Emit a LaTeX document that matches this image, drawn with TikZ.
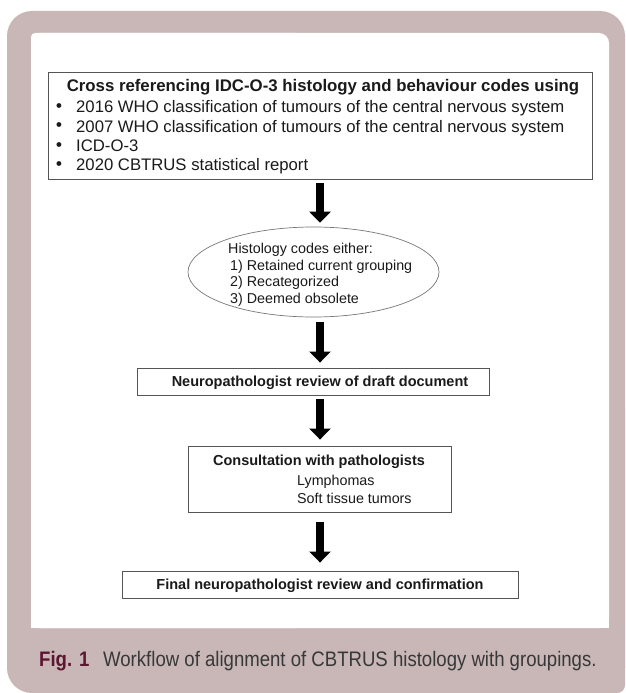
\documentclass[tikz,border=0pt]{standalone}
\usepackage{fontspec}
\setmainfont{Liberation Sans}
\newfontfamily\capfont[FakeStretch=0.885]{Liberation Sans}
\usetikzlibrary{arrows.meta,shapes.geometric}
\definecolor{frame}{HTML}{C9B7B7}
\definecolor{figred}{HTML}{5B1631}
\definecolor{captext}{HTML}{383838}
\definecolor{boxgray}{HTML}{555555}
\definecolor{txt}{HTML}{1A1A1A}
\begin{document}
\begin{tikzpicture}[x=1pt,y=-1pt,
  boxstyle/.style={draw=boxgray, line width=0.9pt, rectangle, inner sep=0pt, text=txt},
  ellstyle/.style={draw=boxgray!80, line width=0.7pt, ellipse, inner sep=0pt},
  bigarrow/.style={line width=8pt, draw=black, -{Triangle[width=21pt,length=11pt]}},
  lbl/.style={inner sep=0pt, anchor=base, text=txt},
  lblw/.style={inner sep=0pt, anchor=base west, text=txt},
  titlefont/.style={font=\fontsize{16.8}{19}\selectfont\bfseries},
  itemfont/.style={font=\fontsize{16.7}{19}\selectfont},
  bulfont/.style={font=\fontsize{16.7}{19}\selectfont\bfseries},
  smallbold/.style={font=\fontsize{14.5}{17}\selectfont\bfseries},
  smallfont/.style={font=\fontsize{14.3}{17}\selectfont},
  ellfont/.style={font=\fontsize{14.3}{17}\selectfont}]
\useasboundingbox (0,0) rectangle (625,693);
\fill[white] (0,0) rectangle (625,693);
% outer frame
\fill[frame, rounded corners=25pt] (7,11) rectangle (625,693);
\fill[frame, rounded corners=8pt] (400,400) rectangle (625,693);
% inner white panel
\fill[white, rounded corners=10pt] (31,33) rectangle (609,628);
\fill[white, rounded corners=4pt] (31,33) rectangle (300,628);
\fill[white] (31,100) rectangle (609,628);

\coordinate (axis) at (320,0);

% top box
\node[boxstyle, minimum width=544pt, minimum height=107pt] (box1) at (320,125.5) {};
\node[lbl, titlefont] (t1) at (323,91) {Cross referencing IDC-O-3 histology and behaviour codes using};
\node[lbl, bulfont] (b1) at (59,111) {\textbullet};
\node[lbl, bulfont] (b2) at (59,130.5) {\textbullet};
\node[lbl, bulfont] (b3) at (59,150) {\textbullet};
\node[lbl, bulfont] (b4) at (59,169) {\textbullet};
\node[lblw, itemfont] (i1) at (76,112.5) {2016 WHO classification of tumours of the central nervous system};
\node[lblw, itemfont] (i2) at (76,132) {2007 WHO classification of tumours of the central nervous system};
\node[lblw, itemfont] (i3) at (76,151.5) {ICD-O-3};
\node[lblw, itemfont] (i4) at (76,170.5) {2020 CBTRUS statistical report};

% ellipse
\node[ellstyle, minimum width=251pt, minimum height=90pt] (ell) at (313.5,272) {};
\node[lblw, ellfont] (e1) at (228,253) {Histology codes either:};
\node[lblw, ellfont] (e2) at (230,270) {1) Retained current grouping};
\node[lblw, ellfont] (e3) at (230,286.5) {2) Recategorized};
\node[lblw, ellfont] (e4) at (230,303) {3) Deemed obsolete};

% box 2
\node[boxstyle, minimum width=352pt, minimum height=27pt] (box2) at (313,381.5) {};
\node[lbl, smallbold] (t2) at (320,386.5) {Neuropathologist review of draft document};

% box 3
\node[boxstyle, minimum width=263pt, minimum height=66pt] (box3) at (319.5,479) {};
\node[lbl, smallbold] (t3) at (319,465) {Consultation with pathologists};
\node[lblw, smallfont] (l1) at (297,485) {Lymphomas};
\node[lblw, smallfont] (l2) at (297,503) {Soft tissue tumors};

% box 4
\node[boxstyle, minimum width=396pt, minimum height=27pt] (box4) at (320,584.5) {};
\node[lbl, smallbold] (t4) at (320,589.5) {Final neuropathologist review and confirmation};

% arrows
\draw[bigarrow, shorten <=4pt, shorten >=4pt] (box1.south -| axis) -- (ell.north -| axis);
\draw[bigarrow, shorten <=5pt, shorten >=5pt] (ell.south -| axis) -- (box2.north -| axis);
\draw[bigarrow, shorten <=4pt, shorten >=6pt] (box2.south -| axis) -- (box3.north -| axis);
\draw[bigarrow, shorten <=10pt, shorten >=8pt] (box3.south -| axis) -- (box4.north -| axis);

% caption
\node[inner sep=0pt, anchor=base west, text=figred, font=\capfont\fontsize{21}{24}\selectfont\bfseries] (fig) at (39,666) {Fig. 1};
\node[inner sep=0pt, anchor=base west, text=captext, font=\capfont\fontsize{21}{24}\selectfont] (cap) at (103,666) {Workflow of alignment of CBTRUS histology with groupings.};
\end{tikzpicture}
\end{document}
